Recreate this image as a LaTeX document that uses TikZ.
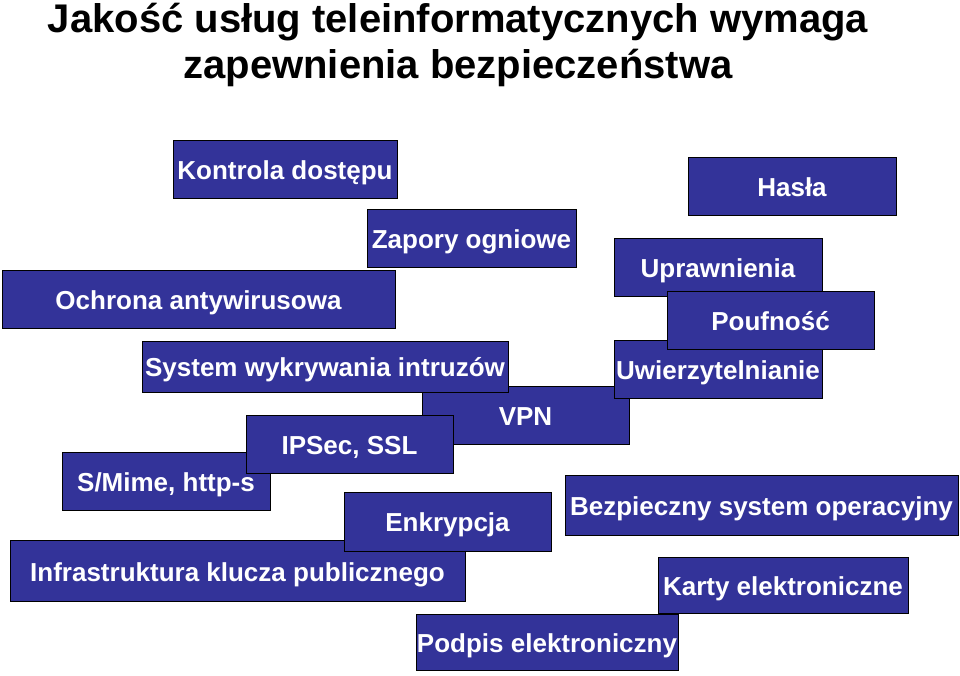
\documentclass[tikz,border=0pt]{standalone}
\usepackage{fontspec}
\setmainfont{Liberation Sans}
\definecolor{tilefill}{HTML}{333399}
\tikzset{
  tile/.style = {draw = black, line width = 1pt, fill = tilefill, text = white,
    font = \fontsize{26}{30}\selectfont\bfseries, inner sep = 0pt,
    minimum height = 58pt, text height = 20pt, text depth = 0pt},
  headline/.style = {anchor = base, font = \fontsize{40}{47}\selectfont\bfseries}
}

\begin{document}
\begin{tikzpicture}[x = 1pt, y = -1pt]
\useasboundingbox (0,0) rectangle (960,675);
\node (T1) [headline] at (458,32) {Jakość usług teleinformatycznych wymaga};
\node (T2) [headline] at (458,78) {zapewnienia bezpieczeństwa};
\node (KD) [tile, minimum width = 224pt] at (285,169.5) {Kontrola dostępu};
\node (HA) [tile, minimum width = 208pt] at (792,186) {Hasła};
\node (ZO) [tile, minimum width = 209pt] at (471.5,238) {Zapory ogniowe};
\node (OA) [tile, minimum width = 393pt] at (198.5,299.5) {Ochrona antywirusowa};
\node (UP) [tile, minimum width = 208pt] at (718,267.5) {Uprawnienia};
\node (VPN) [tile, minimum width = 207pt] at (525.5,415) {VPN};
\node (SW) [tile, minimum width = 366pt, minimum height = 51pt] at (325,366.5) {System wykrywania intruzów};
\node (UW) [tile, minimum width = 208pt] at (718,369) {Uwierzytelnianie};
\node (PO) [tile, minimum width = 207pt] at (770.5,320) {Poufność};
\node (SM) [tile, minimum width = 208pt] at (166,481) {S/Mime, http-s};
\node (IP) [tile, minimum width = 207pt] at (349.5,444) {IPSec, SSL};
\node (IN) [tile, minimum width = 455pt, minimum height = 61pt] at (237.5,571) {Infrastruktura klucza publicznego};
\node (EN) [tile, minimum width = 207pt, minimum height = 59pt] at (447.5,521.5) {Enkrypcja};
\node (BS) [tile, minimum width = 393pt, minimum height = 60pt] at (761.5,505) {Bezpieczny system operacyjny};
\node (KE) [tile, minimum width = 250pt, minimum height = 56pt] at (783,585) {Karty elektroniczne};
\node (PE) [tile, minimum width = 262pt, minimum height = 56pt] at (547,642) {Podpis elektroniczny};
\end{tikzpicture}
\end{document}
